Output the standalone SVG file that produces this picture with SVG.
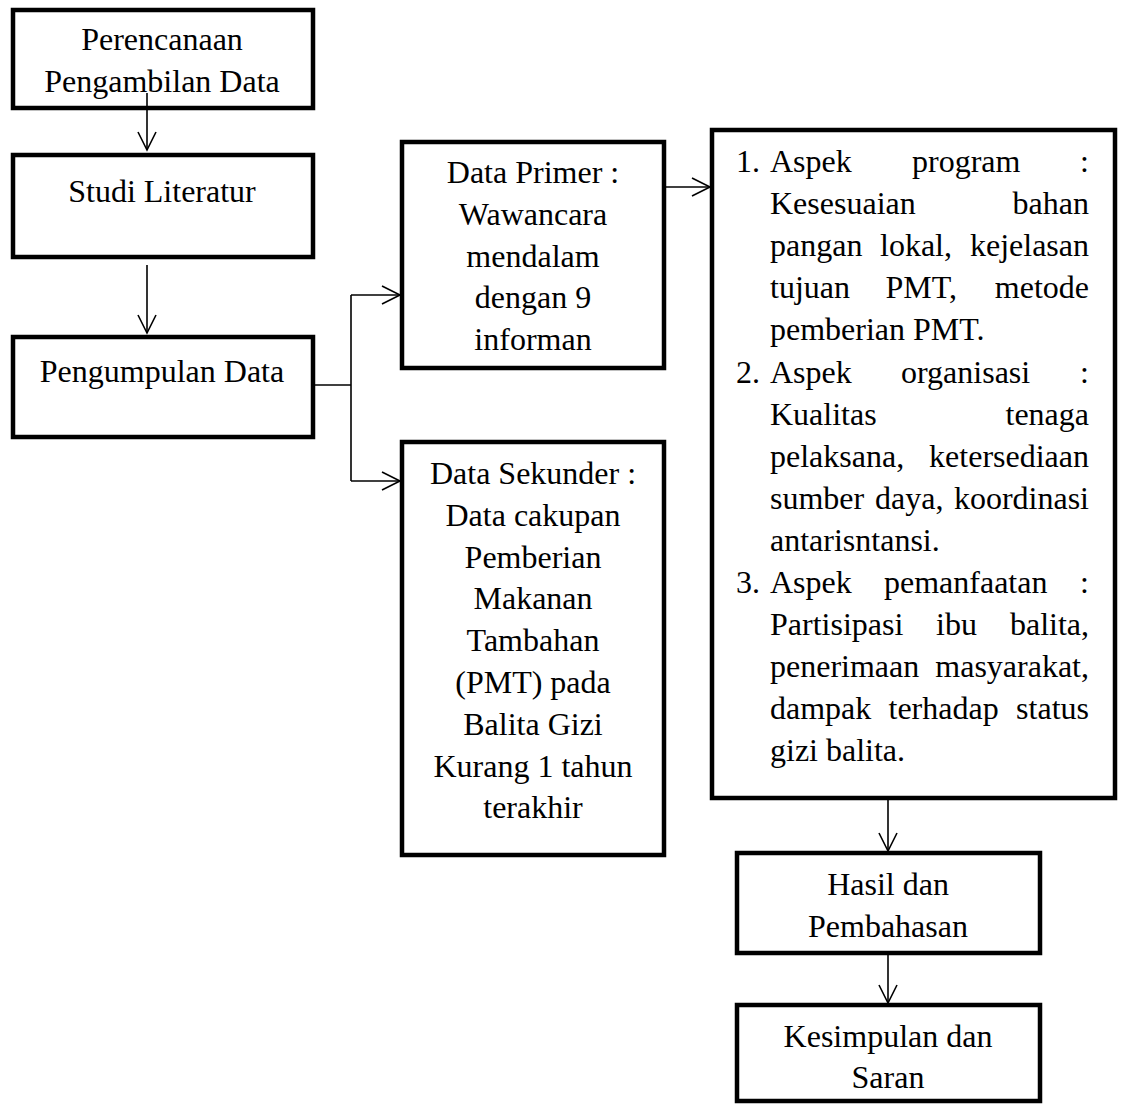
<svg xmlns="http://www.w3.org/2000/svg" width="1122" height="1104" viewBox="0 0 1122 1104">
<style>
.box{fill:#fff;stroke:#000;stroke-width:4.5;stroke-linejoin:miter}
.t{font-family:"Liberation Serif","Times New Roman",serif;font-size:32px;fill:#000}
.c{text-anchor:middle}
.e{text-anchor:end}
.ln{fill:none;stroke:#000;stroke-width:1.6}
</style>
<defs>
<marker id="arr" markerUnits="userSpaceOnUse" markerWidth="22" markerHeight="22" viewBox="0 0 22 22" refX="20" refY="11" orient="auto">
<path d="M2,2 L20,11 L2,20" fill="none" stroke="#000" stroke-width="1.6"/>
</marker>
</defs>
<rect width="1122" height="1104" fill="#fff"/>

<g id="perencanaan">
<rect class="box" x="13" y="10" width="300" height="98"/>
<text class="t c" x="162" y="50">Perencanaan</text>
<text class="t c" x="162" y="92">Pengambilan Data</text>
</g>

<g id="studi-literatur">
<rect class="box" x="13" y="155" width="300" height="102"/>
<text class="t c" x="162" y="202">Studi Literatur</text>
</g>

<g id="pengumpulan-data">
<rect class="box" x="13" y="337" width="300" height="100"/>
<text class="t c" x="162" y="382">Pengumpulan Data</text>
</g>

<g id="data-primer">
<rect class="box" x="402" y="142" width="262" height="226"/>
<text class="t c" x="533" y="183">Data Primer :</text>
<text class="t c" x="533" y="225">Wawancara</text>
<text class="t c" x="533" y="267">mendalam</text>
<text class="t c" x="533" y="308">dengan 9</text>
<text class="t c" x="533" y="350">informan</text>
</g>

<g id="data-sekunder">
<rect class="box" x="402" y="442" width="262" height="413"/>
<text class="t c" x="533" y="484">Data Sekunder :</text>
<text class="t c" x="533" y="526">Data cakupan</text>
<text class="t c" x="533" y="568">Pemberian</text>
<text class="t c" x="533" y="609">Makanan</text>
<text class="t c" x="533" y="651">Tambahan</text>
<text class="t c" x="533" y="693">(PMT) pada</text>
<text class="t c" x="533" y="735">Balita Gizi</text>
<text class="t c" x="533" y="777">Kurang 1 tahun</text>
<text class="t c" x="533" y="818">terakhir</text>
</g>

<g id="aspek">
<rect class="box" x="712" y="130" width="403" height="668"/>
<text class="t" x="736" y="172">1.</text>
<text class="t" x="770" y="172">Aspek</text>
<text class="t" x="912" y="172">program</text>
<text class="t e" x="1089" y="172">:</text>
<text class="t" x="770" y="214">Kesesuaian</text>
<text class="t e" x="1089" y="214">bahan</text>
<text class="t" x="770" y="256">pangan</text>
<text class="t" x="880" y="256">lokal,</text>
<text class="t e" x="1089" y="256">kejelasan</text>
<text class="t" x="770" y="298">tujuan</text>
<text class="t" x="885.5" y="298">PMT,</text>
<text class="t e" x="1089" y="298">metode</text>
<text class="t" x="770" y="340">pemberian PMT.</text>
<text class="t" x="736" y="383">2.</text>
<text class="t" x="770" y="383">Aspek</text>
<text class="t" x="901" y="383">organisasi</text>
<text class="t e" x="1089" y="383">:</text>
<text class="t" x="770" y="425">Kualitas</text>
<text class="t e" x="1089" y="425">tenaga</text>
<text class="t" x="770" y="467">pelaksana,</text>
<text class="t e" x="1089" y="467">ketersediaan</text>
<text class="t" x="770" y="509">sumber</text>
<text class="t" x="875" y="509">daya,</text>
<text class="t e" x="1089" y="509">koordinasi</text>
<text class="t" x="770" y="551">antarisntansi.</text>
<text class="t" x="736" y="593">3.</text>
<text class="t" x="770" y="593">Aspek</text>
<text class="t" x="884" y="593">pemanfaatan</text>
<text class="t e" x="1089" y="593">:</text>
<text class="t" x="770" y="635">Partisipasi</text>
<text class="t" x="936" y="635">ibu</text>
<text class="t e" x="1089" y="635">balita,</text>
<text class="t" x="770" y="677">penerimaan</text>
<text class="t e" x="1089" y="677">masyarakat,</text>
<text class="t" x="770" y="719">dampak</text>
<text class="t" x="888.5" y="719">terhadap</text>
<text class="t e" x="1089" y="719">status</text>
<text class="t" x="770" y="761">gizi balita.</text>
</g>

<g id="hasil">
<rect class="box" x="737" y="853" width="303" height="100"/>
<text class="t c" x="888" y="895">Hasil dan</text>
<text class="t c" x="888" y="937">Pembahasan</text>
</g>

<g id="kesimpulan">
<rect class="box" x="737" y="1005" width="303" height="96"/>
<text class="t c" x="888" y="1047">Kesimpulan dan</text>
<text class="t c" x="888" y="1088">Saran</text>
</g>

<g id="connectors">
<path class="ln" d="M147,93 V150" marker-end="url(#arr)"/>
<path class="ln" d="M147,265 V333" marker-end="url(#arr)"/>
<path class="ln" d="M313,385 H351"/>
<path class="ln" d="M351,295 V481"/>
<path class="ln" d="M351,295 H400" marker-end="url(#arr)"/>
<path class="ln" d="M351,481 H400" marker-end="url(#arr)"/>
<path class="ln" d="M664,187 H710" marker-end="url(#arr)"/>
<path class="ln" d="M888,798 V851" marker-end="url(#arr)"/>
<path class="ln" d="M888,953 V1003" marker-end="url(#arr)"/>
</g>
</svg>
